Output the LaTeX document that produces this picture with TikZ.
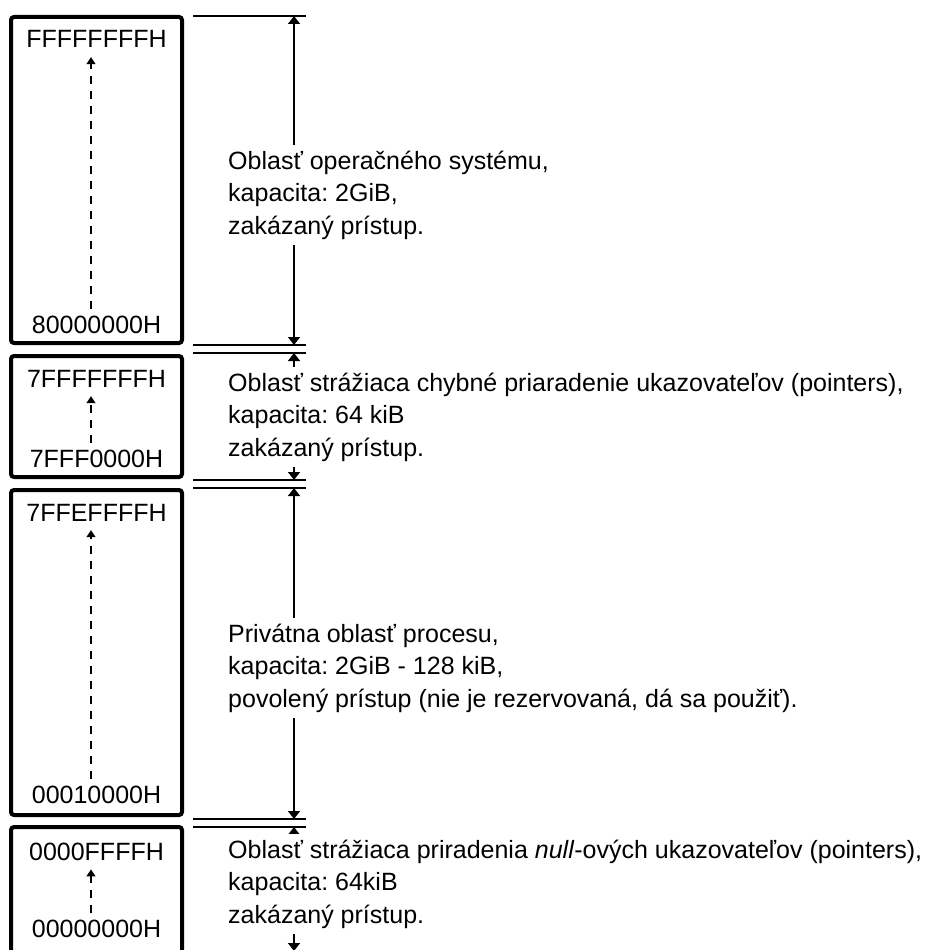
\documentclass[tikz,border=0pt]{standalone}
\usepackage{fontspec}
\setmainfont{Liberation Sans}
\usetikzlibrary{arrows.meta}
\frenchspacing
\tikzstyle{block}=[draw, line width=4pt, rounded corners=3pt, minimum width=171pt, inner sep=0pt]
\tikzstyle{addr}=[anchor=base, inner sep=0pt, font=\fontsize{25}{30}\selectfont]
\tikzstyle{ptr}=[draw, line width=1.3pt, dash pattern=on 8pt off 7pt, -{Triangle[length=7pt,width=9pt]}]
\tikzstyle{dim}=[draw, line width=1.5pt, {Triangle[length=8pt,width=12pt]}-{Triangle[length=8pt,width=12pt]}]
\tikzstyle{bound}=[draw, line width=1.6pt]
\tikzstyle{desc}=[anchor=west, fill=white, align=left, inner xsep=2pt, inner ysep=6pt, font=\fontsize{25}{32.5}\selectfont]

\begin{document}
\begin{tikzpicture}[x=1pt, y=-1pt]

    \useasboundingbox (0,0) rectangle (934,950);

    \foreach \i/\top/\bot in {1/17/343, 2/356/477, 3/490/815, 4/827/956}
        \node[block, minimum height={(\bot-\top)*1pt}] (m\i) at (96.5,{(\top+\bot)/2}) {};

    \foreach \i/\y/\hi/\yy/\lo in {1/48/FFFFFFFFH/333/80000000H, 2/387/7FFFFFFFH/467/7FFF0000H, 3/521/7FFEFFFFH/803/00010000H, 4/860/0000FFFFH/937/00000000H}
    {
        \node[addr] (hi\i) at (96.5,\y) {\hi};
        \node[addr] (lo\i) at (96.5,\yy) {\lo};
        \draw[ptr] ([xshift=-5.5pt,yshift=6pt]lo\i.north) -- ([xshift=-5.5pt,yshift=-9pt]hi\i.south);
    }

    \foreach \y in {16,345,353,480,488,819,827}
        \draw[bound] (193,\y) -- (306,\y);

    \foreach \i/\top/\bot in {1/16/345, 2/353/480, 3/488/819, 4/827/951}
    {
        \coordinate (t\i) at (294,\top);
        \coordinate (b\i) at (294,\bot);
        \draw[dim] (t\i) -- (b\i);
    }

    \node[desc] (d1) at (226,195) {Oblasť operačného systému,\\kapacita: 2GiB,\\zakázaný prístup.};
    \node[desc] (d2) at (226,417) {Oblasť strážiaca chybné priaradenie ukazovateľov (pointers),\\kapacita: 64 kiB\\zakázaný prístup.};
    \node[desc] (d3) at (226,668) {Privátna oblasť procesu,\\kapacita: 2GiB - 128 kiB,\\povolený prístup (nie je rezervovaná, dá sa použiť).};
    \node[desc] (d4) at (226,884) {Oblasť strážiaca priradenia \textit{null}-ových ukazovateľov (pointers),\\kapacita: 64kiB\\zakázaný prístup.};

\end{tikzpicture}
\end{document}
